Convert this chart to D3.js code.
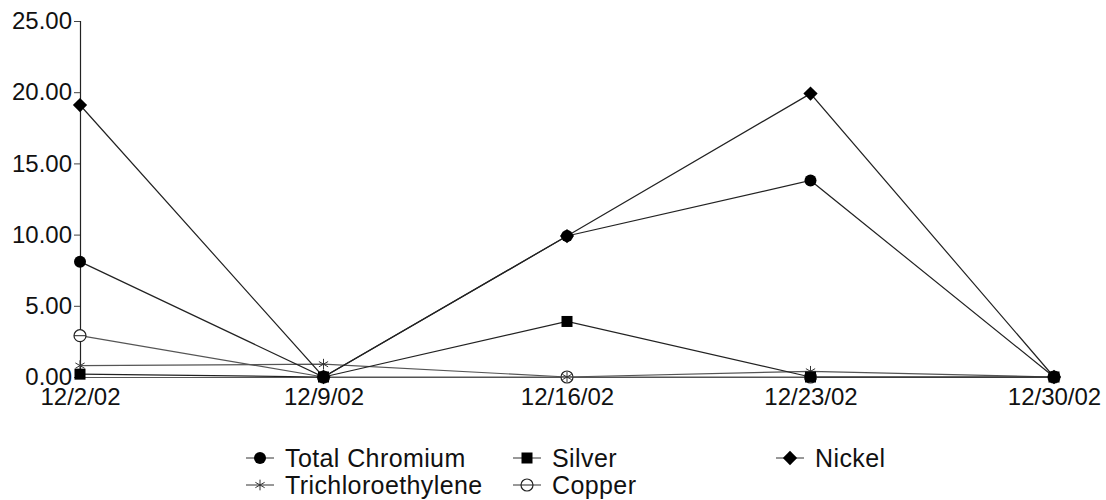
<!DOCTYPE html>
<html>
<head>
<meta charset="utf-8">
<script src="https://cdn.jsdelivr.net/npm/d3@7"></script>
<style>
  body { margin: 0; background: #fff; }
  text { font-family: "Liberation Sans", Arial, sans-serif; fill: #111; }
</style>
</head>
<body>
<div id="chart-area"></div>
<script>
// data
var dates = ["12/2/02", "12/9/02", "12/16/02", "12/23/02", "12/30/02"];
var chromium = [8.1, 0.0, 9.9, 13.8, 0.0];
var silver = [0.2, 0.0, 3.9, 0.0, 0.0];
var nickel = [19.1, 0.0, 9.9, 19.9, 0.0];
var trichloro = [0.8, 0.9, 0.0, 0.4, 0.0];
var copper = [2.9, 0.0, 0.0, 0.0, 0.0];
var yTicks = [0, 5, 10, 15, 20, 25];

var series = [
    {name: "Total Chromium", values: chromium, marker: "circle"},
    {name: "Silver", values: silver, marker: "square"},
    {name: "Nickel", values: nickel, marker: "diamond"},
    {name: "Trichloroethylene", values: trichloro, marker: "star"},
    {name: "Copper", values: copper, marker: "open"}
];

var svg = d3.select("#chart-area").append("svg")
    .attr("width", 1106)
    .attr("height", 500);

var x = d3.scalePoint()
    .domain(dates)
    .range([80, 1054]);

var y = d3.scaleLinear()
    .domain([0, 25])
    .range([377, 21]);

// y axis
var yAxis = d3.axisLeft(y)
    .tickValues(yTicks)
    .tickFormat(d3.format(".2f"))
    .tickSize(6)
    .tickPadding(2);

var gy = svg.append("g")
    .attr("transform", "translate(80,0)")
    .call(yAxis);
gy.select(".domain").attr("stroke", "#222").attr("stroke-width", 1.2);
gy.selectAll(".tick line").attr("stroke", "#444");
gy.selectAll(".tick text")
    .attr("font-size", 24)
    .attr("font-family", "Liberation Sans, Arial, sans-serif")
    .attr("fill", "#111");

// x axis
var xAxis = d3.axisBottom(x)
    .tickSize(0)
    .tickPadding(11);

var gx = svg.append("g")
    .attr("transform", "translate(0," + y(0) + ")")
    .call(xAxis);
gx.select(".domain").attr("stroke", "#555").attr("stroke-width", 1);
gx.selectAll(".tick text")
    .attr("font-size", 24)
    .attr("font-family", "Liberation Sans, Arial, sans-serif")
    .attr("fill", "#111");

var line = d3.line()
    .x((d, i) => x(dates[i]))
    .y((d) => y(d));

function drawMarker(g, type, cx, cy) {
    if (type == "circle") {
        g.append("circle").attr("cx", cx).attr("cy", cy).attr("r", 6).attr("fill", "#000");
    } else if (type == "square") {
        g.append("rect").attr("x", cx - 5.5).attr("y", cy - 5.5)
            .attr("width", 11).attr("height", 11).attr("fill", "#000");
    } else if (type == "diamond") {
        g.append("path")
            .attr("d", d3.symbol().type(d3.symbolDiamond2).size(130)())
            .attr("transform", "translate(" + cx + "," + cy + ")")
            .attr("fill", "#000");
    } else if (type == "star") {
        g.append("path")
            .attr("d", d3.symbol().type(d3.symbolAsterisk).size(80)())
            .attr("transform", "translate(" + cx + "," + cy + ")")
            .attr("fill", "none")
            .attr("stroke", "#333")
            .attr("stroke-width", 1);
    } else if (type == "open") {
        g.append("circle").attr("cx", cx).attr("cy", cy).attr("r", 6)
            .attr("fill", "#fff").attr("stroke", "#222").attr("stroke-width", 1.2);
        g.append("line").attr("x1", cx - 6).attr("x2", cx + 6)
            .attr("y1", cy).attr("y2", cy).attr("stroke", "#222");
    }
}

// lines (drawn in reverse so chromium sits on top)
var drawOrder = series.slice().reverse();
drawOrder.forEach((s) => {
    var g = svg.append("g");
    g.append("path")
        .datum(s.values)
        .attr("d", line)
        .attr("fill", "none")
        .attr("stroke", s.marker == "star" || s.marker == "open" ? "#555" : "#222")
        .attr("stroke-width", 1.2);
    s.values.forEach((v, i) => {
        drawMarker(g, s.marker, x(dates[i]), y(v));
    });
});

// legend
var legendPos = [
    [260, 458], [527, 458], [790, 458],
    [260, 485], [527, 485]
];
series.forEach((s, i) => {
    var lx = legendPos[i][0], ly = legendPos[i][1];
    var g = svg.append("g");
    g.append("line")
        .attr("x1", lx - 14).attr("x2", lx + 14)
        .attr("y1", ly).attr("y2", ly)
        .attr("stroke", "#333").attr("stroke-width", 1);
    drawMarker(g, s.marker, lx, ly);
    g.append("text")
        .attr("x", lx + 25)
        .attr("y", ly)
        .attr("dy", "0.35em")
        .attr("font-size", 25)
        .attr("letter-spacing", 0.4)
        .text(s.name);
});
</script>
</body>
</html>
